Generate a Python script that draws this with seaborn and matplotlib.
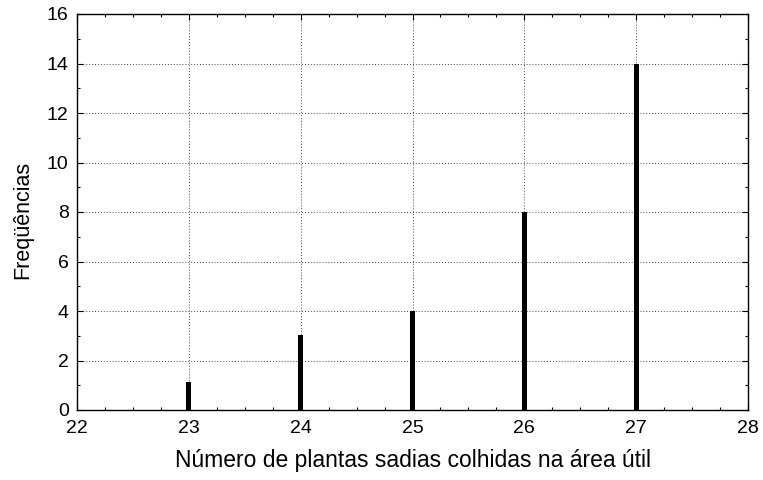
import matplotlib
matplotlib.use("Agg")
import matplotlib.pyplot as plt
from matplotlib.ticker import MultipleLocator
import seaborn as sns
import pandas as pd

# Frequency of healthy plants harvested per plot
plantas = [23, 24, 25, 26, 27]
frequencias = [1.15, 3.05, 4, 8, 14]

x_ticks = [22, 23, 24, 25, 26, 27, 28]
y_ticks = [0, 2, 4, 6, 8, 10, 12, 14, 16]

sns.set_theme(style="white")
plt.rcParams["font.family"] = ["Liberation Sans", "DejaVu Sans"]

df = pd.DataFrame({"plantas": plantas, "freq": frequencias})

fig = plt.figure(figsize=(7.63, 4.80), dpi=100)
ax = fig.add_axes([77 / 763, 1 - 410 / 480, (748 - 77) / 763, (410 - 14) / 480])

sns.barplot(data=df, x="plantas", y="freq", native_scale=True, width=0.045,
            color="black", edgecolor="black", linewidth=0, ax=ax, zorder=3)

ax.set_xlim(22, 28)
ax.set_ylim(0, 16)
ax.set_xticks(x_ticks)
ax.set_yticks(y_ticks)
ax.xaxis.set_minor_locator(MultipleLocator(0.25))
ax.yaxis.set_minor_locator(MultipleLocator(1))

ax.grid(True, which="major", linestyle=(0, (1, 2)), color="#444444", linewidth=0.7)
ax.set_axisbelow(True)

for s in ax.spines.values():
    s.set_visible(True)
    s.set_color("black")
    s.set_linewidth(1.0)

ax.tick_params(which="both", direction="in", top=True, right=True,
               bottom=True, left=True, color="black", width=0.8)
ax.tick_params(which="major", length=4, labelsize=14, labelcolor="black")
ax.tick_params(which="minor", length=2.5)
ax.tick_params(axis="x", which="major", pad=7)
ax.tick_params(axis="y", which="major", pad=6)

ax.set_xlabel("Número de plantas sadias colhidas na área útil", fontsize=16.5,
              color="black", labelpad=9)
ax.set_ylabel("Freqüências", fontsize=15.5, color="black", labelpad=10)
ax.yaxis.label.set_y(0.48)

fig.savefig("out.png", dpi=100)
